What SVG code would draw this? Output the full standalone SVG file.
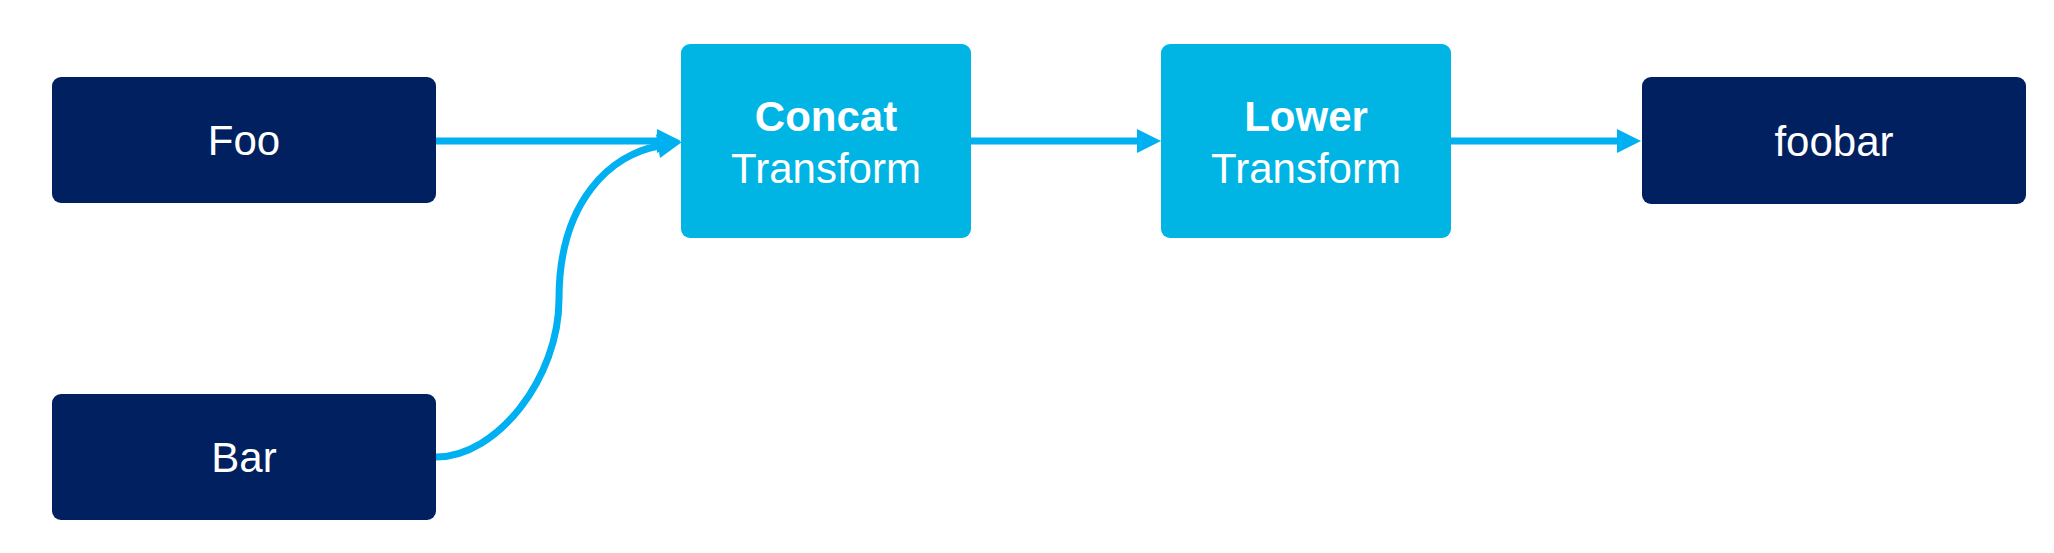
<svg xmlns="http://www.w3.org/2000/svg" width="2054" height="553" viewBox="0 0 2054 553">
  <style>
    .src { fill: #002060; }
    .tf { fill: #00B4E4; }
    .lbl { font-family: "Liberation Sans", Arial, sans-serif; font-size: 42px; fill: #FFFFFF; text-anchor: middle; }
    .b { font-weight: bold; }
    .edge { fill: none; stroke: #00B0F0; stroke-width: 7; }
  </style>
  <defs>
    <marker id="arr" markerUnits="userSpaceOnUse" markerWidth="24" markerHeight="24" viewBox="0 -12 24 24" refX="1" refY="0" orient="auto" overflow="visible">
      <path d="M0,-12 L24,0 L0,12 z" fill="#00B0F0"/>
    </marker>
  </defs>
  <rect width="2054" height="553" fill="#FFFFFF"/>
  <g id="node-foo">
    <rect class="src" x="52" y="77" width="384" height="126" rx="9"/>
    <text class="lbl" x="244" y="155">Foo</text>
  </g>
  <g id="node-bar">
    <rect class="src" x="52" y="394" width="384" height="126" rx="9"/>
    <text class="lbl" x="244" y="472">Bar</text>
  </g>
  <g id="node-concat">
    <rect class="tf" x="681" y="44" width="290" height="194" rx="9"/>
    <text class="lbl b" x="826" y="131">Concat</text>
    <text class="lbl" x="826" y="183">Transform</text>
  </g>
  <g id="node-lower">
    <rect class="tf" x="1161" y="44" width="290" height="194" rx="9"/>
    <text class="lbl b" x="1306" y="131">Lower</text>
    <text class="lbl" x="1306" y="183">Transform</text>
  </g>
  <g id="node-foobar">
    <rect class="src" x="1642" y="77" width="384" height="127" rx="9"/>
    <text class="lbl" x="1834" y="156">foobar</text>
  </g>
  <g id="connectors">
    <path class="edge" d="M436,141 L658,141" marker-end="url(#arr)"/>
    <path class="edge" d="M436,457 C497,457 559,378 559,299 C559,200 612,154 659,146" marker-end="url(#arr)"/>
    <path class="edge" d="M971,141 L1138,141" marker-end="url(#arr)"/>
    <path class="edge" d="M1451,141 L1618,141" marker-end="url(#arr)"/>
  </g>
</svg>
